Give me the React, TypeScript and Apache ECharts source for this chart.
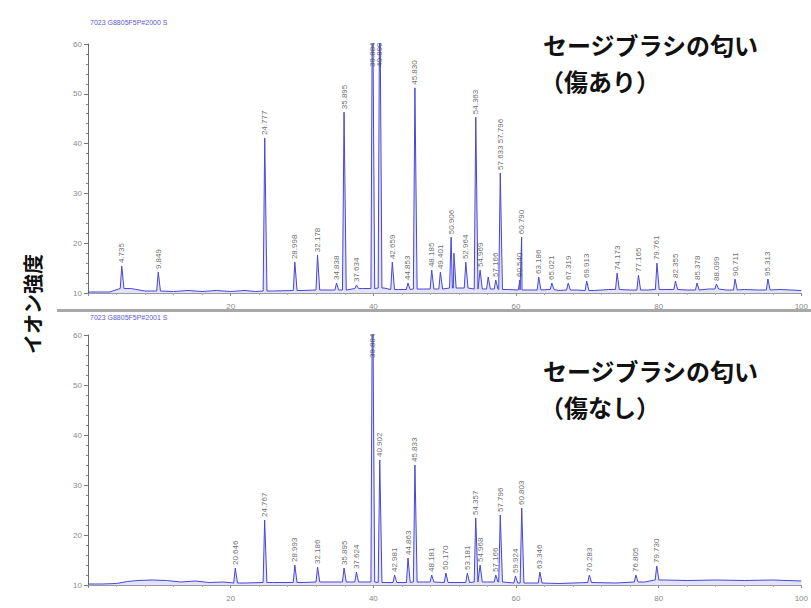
import React, { useEffect, useRef } from "react";
import * as echarts from "echarts";

// ---------- Data ----------
const X_TICKS_MAX = 100;

// Top panel (傷あり) peaks: retention time (min), intensity, label
const TOP_PEAK_T = [4.735, 9.849, 24.777, 28.998, 32.178, 34.838, 35.895, 37.634, 39.884, 40.899, 42.659, 44.853, 45.83, 48.185, 49.401, 50.906, 51.3, 52.964, 54.363, 54.969, 56.1, 57.166, 57.796, 60.54, 60.79, 63.186, 65.021, 67.319, 69.913, 74.173, 77.165, 79.761, 82.355, 85.378, 88.099, 90.711, 95.313];
const TOP_PEAK_H = [15.4, 14.2, 41.1, 16.2, 17.6, 12, 46.3, 11.6, 75, 75, 16.2, 12, 51.2, 14.6, 14.2, 21.2, 18, 16.2, 45.3, 14.6, 13.2, 12.6, 34.1, 12.6, 21.2, 13.2, 12, 12, 12.4, 14, 13.6, 16, 12.4, 12, 11.8, 12.8, 12.8];
const TOP_PEAK_LABEL = ["4.735", "9.849", "24.777", "28.998", "32.178", "34.838", "35.895", "37.634", "39.884", "40.899", "42.659", "44.853", "45.830", "48.185", "49.401", "50.906", "", "52.964", "54.363", "54.969", "", "57.166", "57.633 57.796", "60.540", "60.790", "63.186", "65.021", "67.319", "69.913", "74.173", "77.165", "79.761", "82.355", "85.378", "88.099", "90.711", "95.313"];
const TOP_BASE_T = [0, 3, 6, 8, 12, 14, 16, 18, 20, 22, 23.5, 26, 30, 33.5, 38.5, 41.5, 43.5, 47, 52, 56, 59, 62, 64.5, 66, 68.5, 71, 73, 76, 78.5, 81, 84, 87, 89.5, 92, 94, 97, 100];
const TOP_BASE_V = [10.2, 10.2, 10.9, 10.4, 10.3, 10.5, 10.3, 10.5, 10.3, 10.5, 10.3, 10.4, 10.5, 10.6, 10.9, 11.0, 10.7, 10.8, 11.0, 10.8, 10.7, 10.6, 10.7, 10.5, 10.6, 10.5, 10.7, 10.6, 10.6, 10.7, 10.6, 10.8, 10.6, 10.7, 10.6, 10.7, 10.5];

// Bottom panel (傷なし)
const BOT_PEAK_T = [20.646, 24.767, 28.993, 32.186, 35.895, 37.624, 39.884, 40.902, 42.981, 44.863, 45.833, 48.181, 50.17, 53.181, 54.357, 54.968, 57.166, 57.796, 59.924, 60.803, 63.346, 70.283, 76.805, 79.73];
const BOT_PEAK_H = [13.4, 23, 14, 13.6, 13.4, 12.6, 75, 35, 12, 15.4, 34, 12, 12.4, 12.4, 23.4, 14, 12, 24, 11.8, 25.4, 12.6, 12, 12, 13.8];
const BOT_PEAK_LABEL = ["20.646", "24.767", "28.993", "32.186", "35.895", "37.624", "39.884", "40.902", "42.981", "44.863", "45.833", "48.181", "50.170", "53.181", "54.357", "54.968", "57.166", "57.796", "59.924", "60.803", "63.346", "70.283", "76.805", "79.730"];
const BOT_BASE_T = [0, 2, 4, 5.5, 7, 9, 11, 13, 15, 17, 19, 22, 26, 30, 34, 38, 43, 47, 52, 56, 62, 66, 70, 74, 78, 81, 84, 88, 92, 96, 100];
const BOT_BASE_V = [10.2, 10.2, 10.3, 10.7, 10.9, 11.0, 10.9, 10.6, 10.8, 10.5, 10.6, 10.4, 10.5, 10.5, 10.6, 10.6, 10.5, 10.6, 10.5, 10.6, 10.4, 10.3, 10.5, 10.4, 10.6, 11.0, 10.9, 11.0, 10.9, 11.0, 10.8];

const Y_MIN = 10;
const Y_MAX = 60;
const TITLE_MAIN = "セージブラシの匂い";
const TITLE_TOP = "（傷あり）";
const TITLE_BOT = "（傷なし）";
const Y_TITLE = "イオン強度";
const HEADER_TOP = "7023 G8805F5P#2000 S";
const HEADER_BOT = "7023 G8805F5P#2001 S";

// ---------- helpers ----------
function nearestBase(bt: number[], bv: number[], t: number) {
  let best = 0;
  for (let i = 1; i < bt.length; i++) if (Math.abs(bt[i] - t) < Math.abs(bt[best] - t)) best = i;
  return bv[best];
}

function buildTrace(bt: number[], bv: number[], pt: number[], ph: number[]) {
  const w = 0.22;
  const pts: number[][] = [];
  bt.forEach((t, i) => {
    if (!pt.some((p) => t > p - w * 1.5 && t < p + w * 2)) pts.push([t, bv[i]]);
  });
  pt.forEach((t, i) => {
    const b = nearestBase(bt, bv, t);
    pts.push([t - w, b], [t, ph[i]], [t + w * 1.4, b]);
  });
  pts.sort((a, b) => a[0] - b[0]);
  return pts;
}

function labelData(pt: number[], ph: number[], lab: string[]) {
  const out: any[] = [];
  pt.forEach((t, i) => {
    if (lab[i]) out.push({ value: [t, Math.min(ph[i], 54.8)], name: lab[i] });
  });
  return out;
}

const axisFont = { color: "#8a8a8a", fontSize: 8, fontFamily: "Liberation Sans" };

function xAxisCfg(gi: number) {
  return {
    gridIndex: gi,
    type: "value",
    min: 0,
    max: X_TICKS_MAX,
    interval: 20,
    axisLine: { lineStyle: { color: "#9a9a9a", width: 1 } },
    axisTick: { length: 3, lineStyle: { color: "#888" } },
    minorTick: { show: true, splitNumber: 5, length: 2, lineStyle: { color: "#aaa" } },
    axisLabel: { ...axisFont, margin: 9, showMinLabel: false },
    splitLine: { show: false },
  };
}
function yAxisCfg(gi: number) {
  return {
    gridIndex: gi,
    type: "value",
    min: Y_MIN,
    max: Y_MAX,
    interval: 10,
    axisLine: { show: true, lineStyle: { color: "#6a6a6a", width: 1 } },
    axisTick: { show: true, length: 4, lineStyle: { color: "#777" } },
    minorTick: { show: true, splitNumber: 5, length: 2, lineStyle: { color: "#888" } },
    axisLabel: { ...axisFont, margin: 6 },
    splitLine: { show: false },
  };
}

function traceSeries(gi: number, data: number[][]) {
  return {
    type: "line",
    xAxisIndex: gi,
    yAxisIndex: gi,
    data,
    symbol: "none",
    smooth: false,
    clip: true,
    lineStyle: { color: "#4646d8", width: 1 },
    areaStyle: { color: "rgba(120,120,235,0.3)" },
    z: 2,
  };
}
function labelSeries(gi: number, data: any[]) {
  return {
    type: "scatter",
    xAxisIndex: gi,
    yAxisIndex: gi,
    data,
    symbolSize: 0,
    silent: true,
    z: 3,
    label: {
      show: true,
      position: "top",
      distance: 3,
      rotate: 90,
      align: "left",
      verticalAlign: "middle",
      formatter: (p: any) => p.name,
      color: "#444",
      fontSize: 8,
      fontFamily: "Liberation Sans",
    },
  };
}

export default function App() {
  const ref = useRef<HTMLDivElement>(null);
  useEffect(() => {
    if (!ref.current) return;
    const chart = echarts.init(ref.current, null, { renderer: "svg" });
    const titleFont = { fontSize: 24, fontWeight: "bold", fontFamily: "Noto Sans CJK JP", fill: "#111" };
    chart.setOption({
      animation: false,
      backgroundColor: "#ffffff",
      grid: [
        { left: 88, top: 44, width: 715, height: 249 },
        { left: 88, top: 335, width: 715, height: 250 },
      ],
      xAxis: [xAxisCfg(0), xAxisCfg(1)],
      yAxis: [yAxisCfg(0), yAxisCfg(1)],
      series: [
        traceSeries(0, buildTrace(TOP_BASE_T, TOP_BASE_V, TOP_PEAK_T, TOP_PEAK_H)),
        labelSeries(0, labelData(TOP_PEAK_T, TOP_PEAK_H, TOP_PEAK_LABEL)),
        traceSeries(1, buildTrace(BOT_BASE_T, BOT_BASE_V, BOT_PEAK_T, BOT_PEAK_H)),
        labelSeries(1, labelData(BOT_PEAK_T, BOT_PEAK_H, BOT_PEAK_LABEL)),
      ],
      graphic: [
        { type: "rect", left: 57, top: 309, shape: { width: 754, height: 3 }, style: { fill: "#a8a8a8" }, z: 10 },
        { type: "text", x: 90, y: 22, style: { text: HEADER_TOP, fontSize: 7, fill: "#5a5ad8", fontFamily: "Liberation Sans", verticalAlign: "middle" } },
        { type: "text", x: 90, y: 317, style: { text: HEADER_BOT, fontSize: 7, fill: "#5a5ad8", fontFamily: "Liberation Sans", verticalAlign: "middle" } },
        { type: "text", x: 543, y: 44, style: { text: TITLE_MAIN, ...titleFont, verticalAlign: "middle" }, z: 20 },
        { type: "text", x: 540, y: 80, style: { text: TITLE_TOP, ...titleFont, verticalAlign: "middle" }, z: 20 },
        { type: "text", x: 543, y: 370, style: { text: TITLE_MAIN, ...titleFont, verticalAlign: "middle" }, z: 20 },
        { type: "text", x: 540, y: 406, style: { text: TITLE_BOT, ...titleFont, verticalAlign: "middle" }, z: 20 },
        {
          type: "text",
          x: 32,
          y: 304,
          rotation: Math.PI / 2,
          style: { text: Y_TITLE, fontSize: 20, fontWeight: "bold", fontFamily: "Noto Sans CJK JP", fill: "#111", align: "center", verticalAlign: "middle" },
        },
      ],
    });
    return () => chart.dispose();
  }, []);
  return <div ref={ref} style={{ position: "fixed", left: 0, top: 0, width: 811, height: 608 }} />;
}
